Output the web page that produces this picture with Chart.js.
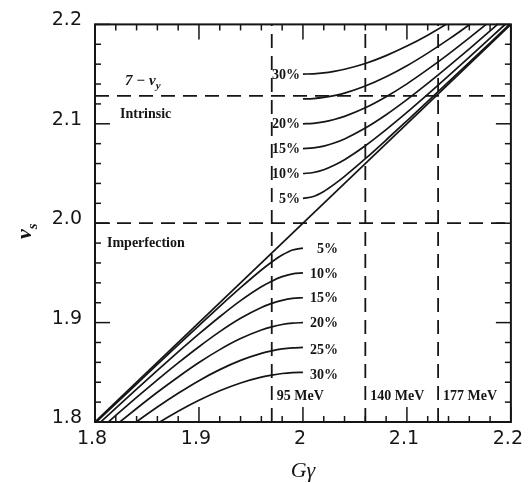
<!DOCTYPE html>
<html lang="en">
<head>
<meta charset="UTF-8">
<title>Spin tune with partial snake</title>
<script src="https://cdn.jsdelivr.net/npm/chart.js@4"></script>
<style>
  body { margin: 0; background: #fff; }
  #chart { display: block; }
</style>
</head>
<body>
<canvas id="chart" width="532" height="483"></canvas>
<script>
// G-gamma sample points: intrinsic branch starts at 2, imperfection branch ends at 2
var gammaUpper = [2.00, 2.01, 2.02, 2.03, 2.04, 2.06, 2.08, 2.10, 2.12, 2.14, 2.16, 2.18, 2.20];
var gammaLower = [1.80, 1.82, 1.84, 1.86, 1.88, 1.90, 1.92, 1.94, 1.96, 1.97, 1.98, 1.99, 2.00];

// spin tune (upper branch)
var nuUp5  = [2.025, 2.0269, 2.032, 2.039, 2.0471, 2.0649, 2.0837, 2.103, 2.1225, 2.1421, 2.1618, 2.1815, 2.2013];
var nuUp10 = [2.05, 2.051, 2.0538, 2.0583, 2.0639, 2.0779, 2.0941, 2.1114, 2.1295, 2.1481, 2.167, 2.1861, 2.2053];
var nuUp15 = [2.075, 2.0757, 2.0776, 2.0807, 2.0848, 2.0957, 2.1091, 2.1243, 2.1406, 2.1577, 2.1753, 2.1934, 2.2118];
var nuUp20 = [2.1, 2.1005, 2.1019, 2.1043, 2.1075, 2.1161, 2.1272, 2.1402, 2.1547, 2.1701, 2.1864, 2.2032, 2.2205];
var nuUp25 = [2.125, 2.1254, 2.1265, 2.1284, 2.1309, 2.138, 2.1473, 2.1584, 2.1711, 2.1849, 2.1997, 2.2152, 2.2313];
var nuUp30 = [2.15, 2.1503, 2.1512, 2.1528, 2.1549, 2.1607, 2.1686, 2.1782, 2.1892, 2.2015, 2.2148, 2.2289, 2.2438];

// lower branch
var nuLow5  = [1.7987, 1.8185, 1.8382, 1.8579, 1.8775, 1.897, 1.9163, 1.9351, 1.9529, 1.961, 1.968, 1.9731, 1.975];
var nuLow10 = [1.7947, 1.8139, 1.833, 1.8519, 1.8705, 1.8886, 1.9059, 1.9221, 1.9361, 1.9417, 1.9462, 1.949, 1.95];
var nuLow15 = [1.7882, 1.8066, 1.8247, 1.8423, 1.8594, 1.8757, 1.8909, 1.9043, 1.9152, 1.9193, 1.9224, 1.9243, 1.925];
var nuLow20 = [1.7795, 1.7968, 1.8136, 1.8299, 1.8453, 1.8598, 1.8728, 1.8839, 1.8925, 1.8957, 1.8981, 1.8995, 1.9];
var nuLow25 = [1.7687, 1.7848, 1.8003, 1.8151, 1.8289, 1.8416, 1.8527, 1.862, 1.8691, 1.8716, 1.8735, 1.8746, 1.875];
var nuLow30 = [1.7562, 1.7711, 1.7852, 1.7985, 1.8108, 1.8218, 1.8314, 1.8393, 1.8451, 1.8472, 1.8488, 1.8497, 1.85];

// no-snake line nu = G gamma
var gammaDiag = [1.8, 2.2];
var nuDiag = [1.8, 2.2];

var snakeLabels = ['5%', '10%', '15%', '20%', '25%', '30%'];
var upperLabelShown = [true, true, true, true, false, true];

var energyLines = [1.970, 2.060, 2.130];
var energyLabels = ['95 MeV', '140 MeV', '177 MeV'];
var resonanceLines = [2.000, 2.128];

var xTicks = [1.8, 1.9, 2.0, 2.1, 2.2];
var xTickLabels = ['1.8', '1.9', '2', '2.1', '2.2'];
var yTicks = [1.8, 1.9, 2.0, 2.1, 2.2];
var yTickLabels = ['1.8', '1.9', '2.0', '2.1', '2.2'];
var minorStep = 0.02;

var INK = '#151515';

function curve(xs, ys) {
    return xs.map(function (x, i) { return { x: x, y: ys[i] }; });
}

function solid(points) {
    return {
        data: points, showLine: true, borderColor: INK, backgroundColor: INK,
        borderWidth: 1.7, pointRadius: 0, cubicInterpolationMode: 'monotone', clip: 0
    };
}
function dashed(points) {
    return {
        data: points, showLine: true, borderColor: INK, backgroundColor: INK,
        borderWidth: 1.8, pointRadius: 0, borderDash: [14, 8], tension: 0, clip: 0
    };
}

var upperSets = [nuUp5, nuUp10, nuUp15, nuUp20, nuUp25, nuUp30];
var lowerSets = [nuLow5, nuLow10, nuLow15, nuLow20, nuLow25, nuLow30];

var datasets = [];
upperSets.forEach(function (ys) { datasets.push(solid(curve(gammaUpper, ys))); });
lowerSets.forEach(function (ys) { datasets.push(solid(curve(gammaLower, ys))); });
datasets.push(solid(curve(gammaDiag, nuDiag)));

// dashed reference lines
energyLines.forEach(function (g) {
    datasets.push(dashed([{ x: g, y: 1.8 }, { x: g, y: 2.2 }]));
});
resonanceLines.forEach(function (n) {
    datasets.push(dashed([{ x: 1.8, y: n }, { x: 2.2, y: n }]));
});

// helper for text with a subscript
function subText(ctx, main, sub, x, y, size, weight) {
    var w8 = weight ? weight + ' ' : '';
    ctx.font = 'italic ' + w8 + size + 'px "Liberation Serif"';
    ctx.textAlign = 'left';
    ctx.textBaseline = 'alphabetic';
    var w = ctx.measureText(main).width;
    ctx.fillText(main, x, y);
    ctx.font = 'italic ' + w8 + Math.round(size * 0.7) + 'px "Liberation Serif"';
    ctx.fillText(sub, x + w, y + size * 0.25);
}

var framePlugin = {
    id: 'frame',
    afterDraw: function (chart) {
        var ctx = chart.ctx, a = chart.chartArea;
        var xs = chart.scales.x, ys = chart.scales.y;
        ctx.save();
        ctx.setLineDash([]);
        ctx.strokeStyle = INK;
        ctx.fillStyle = INK;

        // inward ticks on all four sides
        ctx.lineWidth = 1.5;
        var n = Math.round((2.2 - 1.8) / minorStep);
        for (var i = 0; i <= n; i++) {
            var v = 1.8 + i * minorStep;
            var len = i % 5 === 0 ? 15 : 6;
            var px = xs.getPixelForValue(v), py = ys.getPixelForValue(v);
            ctx.beginPath(); ctx.moveTo(px, a.bottom); ctx.lineTo(px, a.bottom - len); ctx.stroke();
            ctx.beginPath(); ctx.moveTo(px, a.top); ctx.lineTo(px, a.top + len); ctx.stroke();
            ctx.beginPath(); ctx.moveTo(a.left, py); ctx.lineTo(a.left + len, py); ctx.stroke();
            ctx.beginPath(); ctx.moveTo(a.right, py); ctx.lineTo(a.right - len, py); ctx.stroke();
        }
        ctx.lineWidth = 2;
        ctx.strokeRect(a.left, a.top, a.right - a.left, a.bottom - a.top);

        // snake strength labels
        ctx.font = 'bold 14px "Liberation Serif"';
        ctx.textBaseline = 'middle';
        ctx.textAlign = 'right';
        var x0 = xs.getPixelForValue(2.0);
        upperSets.forEach(function (vals, k) {
            if (!upperLabelShown[k]) return;
            ctx.fillText(snakeLabels[k], x0 - 3, ys.getPixelForValue(vals[0]) + 1);
        });
        lowerSets.forEach(function (vals, k) {
            var last = vals[vals.length - 1];
            ctx.fillText(snakeLabels[k], x0 + 35, ys.getPixelForValue(last) + (k >= 4 ? 3 : 1));
        });

        // energy labels
        ctx.textAlign = 'left';
        energyLines.forEach(function (g, k) {
            ctx.fillText(energyLabels[k], xs.getPixelForValue(g) + 5, 396);
        });

        // region labels
        var yTop = ys.getPixelForValue(resonanceLines[1]);
        var yMid = ys.getPixelForValue(resonanceLines[0]);
        ctx.fillText('Intrinsic', a.left + 25, yTop + 18);
        ctx.fillText('Imperfection', a.left + 12, yMid + 20);
        subText(ctx, '7 \u2212 \u03bd', 'y', a.left + 30, yTop - 11, 15, 'bold');

        // axis titles
        ctx.font = 'italic 22px "Liberation Serif"';
        ctx.textAlign = 'center';
        ctx.textBaseline = 'alphabetic';
        ctx.fillText('G\u03b3', (a.left + a.right) / 2, 477);

        ctx.translate(31, (a.top + a.bottom) / 2 + 8);
        ctx.rotate(-Math.PI / 2);
        ctx.font = 'italic bold 22px "Liberation Serif"';
        var wNu = ctx.measureText('\u03bd').width;
        ctx.font = 'italic bold 15px "Liberation Serif"';
        var wS = ctx.measureText('s').width;
        subText(ctx, '\u03bd', 's', -(wNu + wS) / 2, 0, 22, 'bold');
        ctx.restore();
    }
};

var tickFont = { family: '"DejaVu Sans"', size: 19 };

new Chart(document.getElementById('chart'), {
    type: 'scatter',
    data: { datasets: datasets },
    options: {
        responsive: false,
        animation: false,
        events: [],
        layout: { padding: { top: 13, right: 15, left: 0, bottom: 0 } },
        plugins: { legend: { display: false }, tooltip: { enabled: false }, colors: { enabled: false } },
        scales: {
            x: {
                type: 'linear',
                min: 1.8,
                max: 2.2,
                grid: { display: false, drawTicks: false },
                border: { display: false },
                ticks: {
                    padding: 6,
                    labelOffset: -3,
                    color: INK,
                    font: tickFont,
                    maxRotation: 0,
                    autoSkip: false,
                    callback: function (v, i) { return xTickLabels[i]; }
                },
                afterBuildTicks: function (s) { s.ticks = xTicks.map(function (v) { return { value: v }; }); },
                afterFit: function (s) { s.height = 61; }
            },
            y: {
                type: 'linear',
                min: 1.8,
                max: 2.2,
                grid: { display: false, drawTicks: false },
                border: { display: false },
                ticks: {
                    padding: 13,
                    labelOffset: -4,
                    color: INK,
                    font: tickFont,
                    autoSkip: false,
                    callback: function (v, i) { return yTickLabels[i]; }
                },
                afterBuildTicks: function (s) { s.ticks = yTicks.map(function (v) { return { value: v }; }); },
                afterFit: function (s) { s.width = 95; }
            }
        }
    },
    plugins: [framePlugin]
});
</script>
</body>
</html>
